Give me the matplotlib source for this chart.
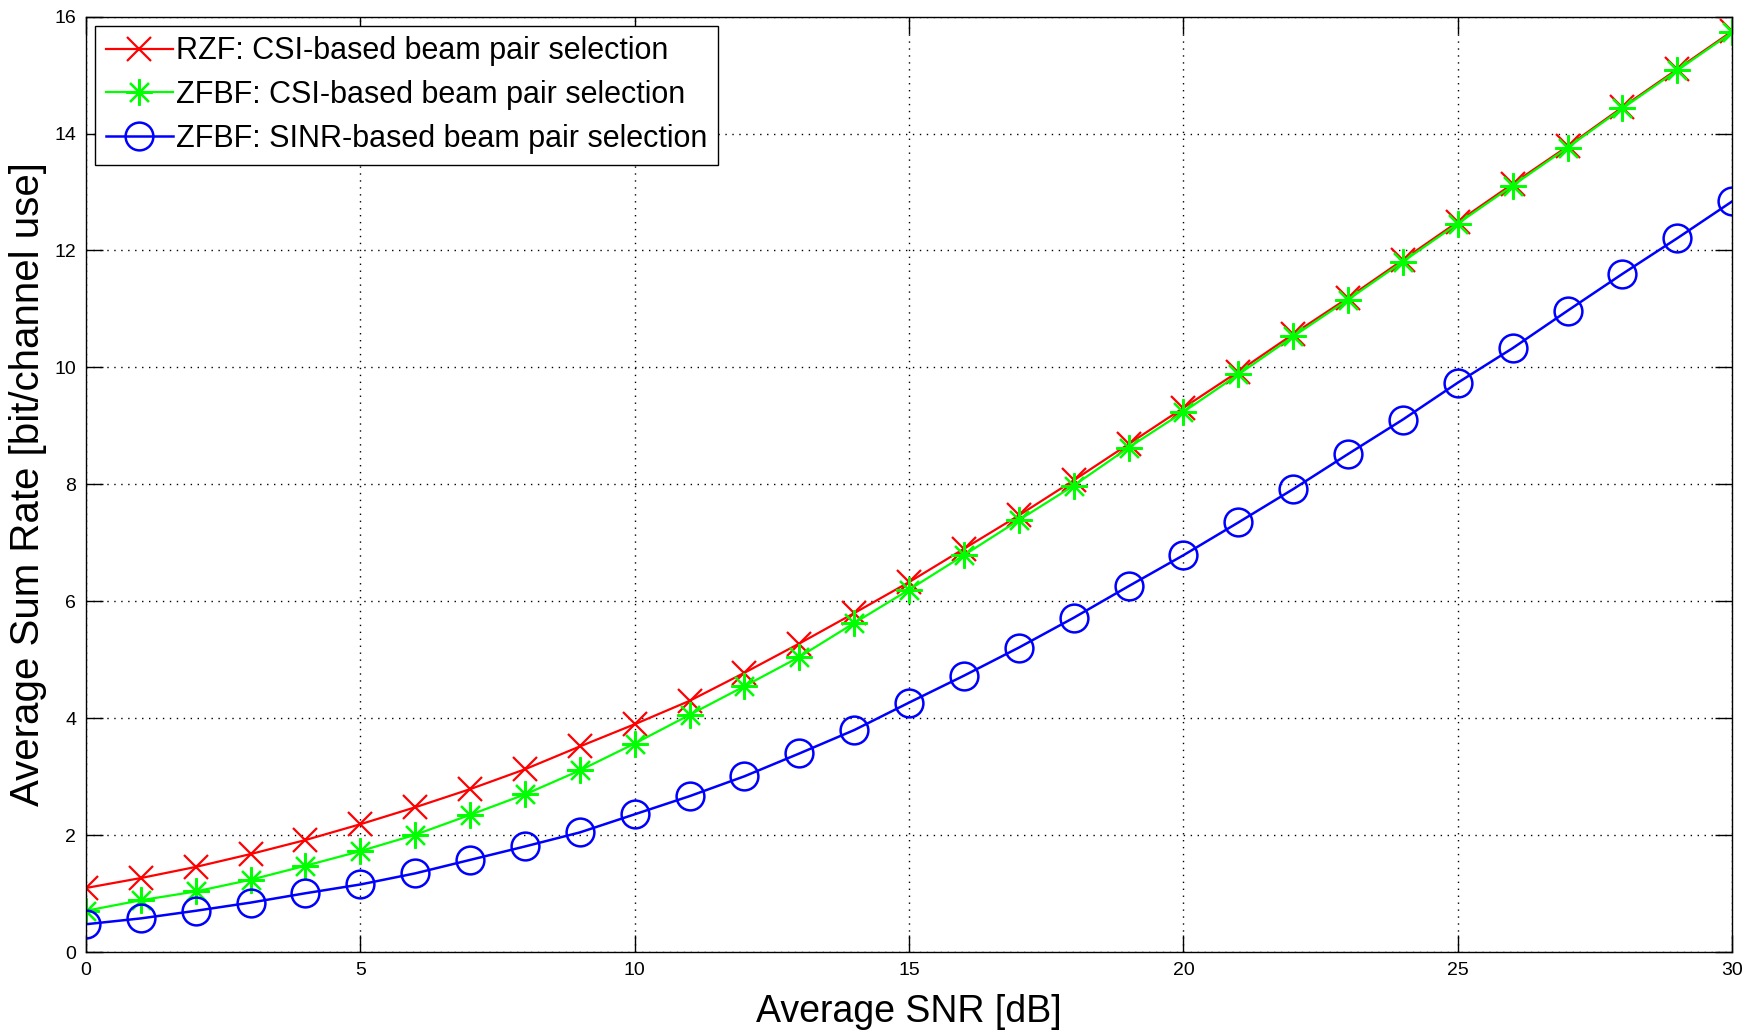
import matplotlib
matplotlib.use('Agg')
import matplotlib.pyplot as plt
import numpy as np

# SNR axis (dB)
snr = list(range(0, 31))

# RZF: CSI-based beam pair selection
rzf_csi = [1.10, 1.27, 1.46, 1.68, 1.92, 2.19, 2.48, 2.79, 3.13, 3.52, 3.90,
           4.30, 4.78, 5.28, 5.80, 6.33, 6.90, 7.47, 8.07, 8.69, 9.31,
           9.93, 10.57, 11.19, 11.84, 12.49, 13.14, 13.78, 14.45, 15.10, 15.75]

# ZFBF: CSI-based beam pair selection
zfbf_csi = [0.71, 0.89, 1.04, 1.24, 1.48, 1.73, 2.01, 2.35, 2.70, 3.11, 3.57,
            4.06, 4.55, 5.05, 5.63, 6.20, 6.79, 7.39, 7.98, 8.63, 9.24,
            9.88, 10.53, 11.16, 11.81, 12.46, 13.11, 13.76, 14.43, 15.08, 15.73]

# ZFBF: SINR-based beam pair selection
zfbf_sinr = [0.48, 0.58, 0.71, 0.85, 1.01, 1.16, 1.35, 1.58, 1.81, 2.05, 2.36,
             2.67, 3.01, 3.40, 3.80, 4.27, 4.73, 5.21, 5.72, 6.26, 6.79,
             7.35, 7.92, 8.52, 9.11, 9.74, 10.33, 10.97, 11.60, 12.21, 12.84]

labels = ['RZF: CSI-based beam pair selection',
          'ZFBF: CSI-based beam pair selection',
          'ZFBF: SINR-based beam pair selection']

xticks = [0, 5, 10, 15, 20, 25, 30]
yticks = [0, 2, 4, 6, 8, 10, 12, 14, 16]

plt.rcParams['font.family'] = ['Liberation Sans', 'DejaVu Sans']
tick_font = ['Liberation Sans Narrow', 'Liberation Sans', 'DejaVu Sans']

fig = plt.figure(figsize=(17.55, 10.34), dpi=100)
ax = fig.add_axes([0.049, 0.079, 0.938, 0.905])

ax.plot(snr, rzf_csi, color='#ff0000', lw=1.6, marker='x', ms=17, mew=1.6,
        label=labels[0])
ax.plot(snr, zfbf_csi, color='#00ff00', lw=1.6, marker=(8, 2, 0), ms=19, mew=1.6,
        label=labels[1])
ax.plot(snr, zfbf_sinr, color='#0000ff', lw=1.8, marker='o', ms=20, mew=1.8,
        mfc='none', label=labels[2])

ax.set_xlim(0, 30)
ax.set_ylim(0, 16)
ax.set_xticks(xticks)
ax.set_yticks(yticks)
ax.grid(True, color='black', linestyle=(0, (1, 4)), lw=1)
ax.tick_params(direction='in', length=12, width=1, top=True, right=True,
               labelsize=14, pad=7)
for lbl in ax.get_xticklabels() + ax.get_yticklabels():
    lbl.set_family(tick_font)
for s in ax.spines.values():
    s.set_linewidth(1)

ax.set_xlabel('Average SNR [dB]', fontsize=27, labelpad=11)
ax.set_ylabel('Average Sum Rate [bit/channel use]', fontsize=29, labelpad=5)

leg = ax.legend(loc='upper left', fontsize=22, borderaxespad=0.3,
                handlelength=2.2, handletextpad=0.1, labelspacing=0.45,
                borderpad=0.35, fancybox=False, framealpha=1)
leg.get_frame().set_edgecolor('black')
leg.get_frame().set_linewidth(1)

fig.savefig('out.png', dpi=100)
